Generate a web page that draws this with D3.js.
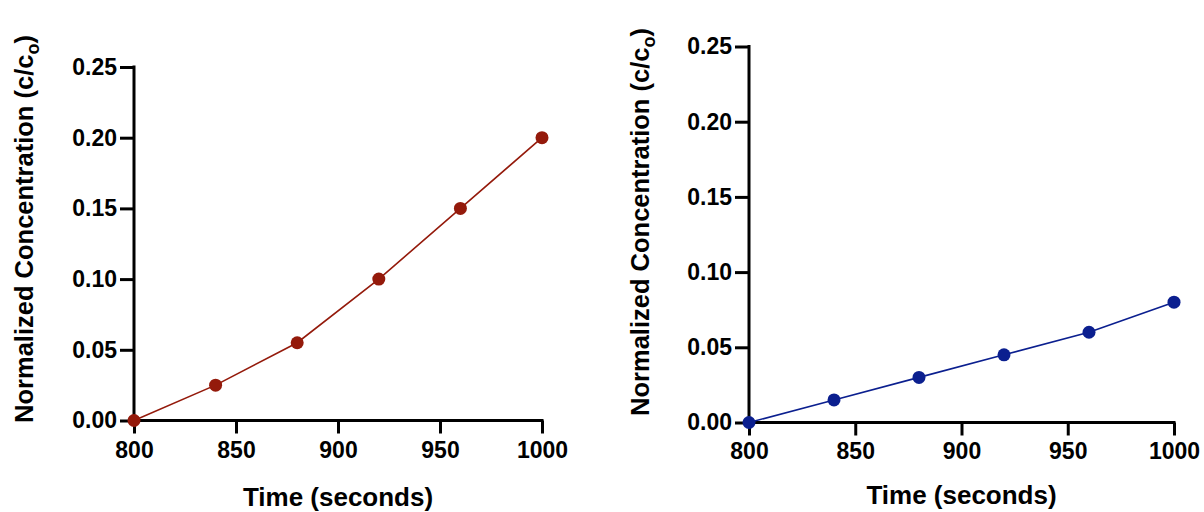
<!DOCTYPE html>
<html><head><meta charset="utf-8">
<script src="https://cdn.jsdelivr.net/npm/d3@7"></script>
<style>body{margin:0;background:#fff}svg{display:block}text{font-family:"Liberation Sans",Arial,sans-serif;font-weight:bold}</style>
</head><body>
<svg id="c" width="1204" height="512"></svg>
<script>
const times = [800, 840, 880, 920, 960, 1000];
const redValues = [0, 0.025, 0.055, 0.10, 0.15, 0.20];
const blueValues = [0, 0.015, 0.03, 0.045, 0.06, 0.08];
const xTicks = [800, 850, 900, 950, 1000];
const yTicks = [0, 0.05, 0.10, 0.15, 0.20, 0.25];
const xTitle = "Time (seconds)";
const yTitle = "Normalized Concentration (c/c";
const ySub = "o";

const svg = d3.select("#c");

const panels = [
  {values: redValues, color: "#941a0b", x0: 134, x1: 542, y0: 420.5, y1: 67, titleX: 33, titleY: 229, xTitleY: 506, xLabY: 458},
  {values: blueValues, color: "#0b1f8f", x0: 749, x1: 1174, y0: 422.5, y1: 46.5, titleX: 649, titleY: 222, xTitleY: 504, xLabY: 459}
];

panels.forEach(p => {
  const x = d3.scaleLinear().domain([800, 1000]).range([p.x0, p.x1]);
  const y = d3.scaleLinear().domain([0, 0.25]).range([p.y0, p.y1]);
  const g = svg.append("g");

  const xa = g.append("g").attr("transform", `translate(0,${p.y0})`)
    .call(d3.axisBottom(x).tickValues(xTicks).tickSize(13).tickFormat(d3.format("d")));
  const ya = g.append("g").attr("transform", `translate(${p.x0},0)`)
    .call(d3.axisLeft(y).tickValues(yTicks).tickSize(14).tickPadding(3).tickFormat(d3.format(".2f")));
  [xa, ya].forEach(a => {
    a.attr("font-family", null).attr("font-size", null);
    a.select(".domain").attr("stroke", "#000").attr("stroke-width", 3);
    a.selectAll(".tick line").attr("stroke", "#000").attr("stroke-width", 3);
    a.selectAll(".tick text").attr("fill", "#000").style("font-size", "23px");
  });
  xa.selectAll(".tick text").attr("dy", null).attr("y", p.xLabY - p.y0);
  ya.select(".domain").attr("d", `M0,${p.y1 - 1.5}V${p.y0 + 1.5}`);
  xa.select(".domain").attr("d", `M${p.x0 - 1.5},0H${p.x1 + 1.5}`);

  const line = d3.line().x((d, i) => x(times[i])).y(d => y(d));
  g.append("path").datum(p.values).attr("d", line)
    .attr("fill", "none").attr("stroke", p.color).attr("stroke-width", 1.6);
  g.selectAll("circle.pt").data(p.values).join("circle")
    .attr("cx", (d, i) => x(times[i])).attr("cy", d => y(d)).attr("r", 6.5)
    .attr("fill", p.color);

  g.append("text").attr("x", (p.x0 + p.x1) / 2).attr("y", p.xTitleY)
    .attr("text-anchor", "middle").style("font-size", "26px").text(xTitle);

  const t = g.append("text").attr("transform", `translate(${p.titleX},${p.titleY}) rotate(-90)`)
    .attr("text-anchor", "middle").style("font-size", "25.5px");
  t.append("tspan").text(yTitle);
  t.append("tspan").attr("dy", 6).style("font-size", "18px").text(ySub);
  t.append("tspan").attr("dy", -6).text(")");
});
</script>
</body></html>
